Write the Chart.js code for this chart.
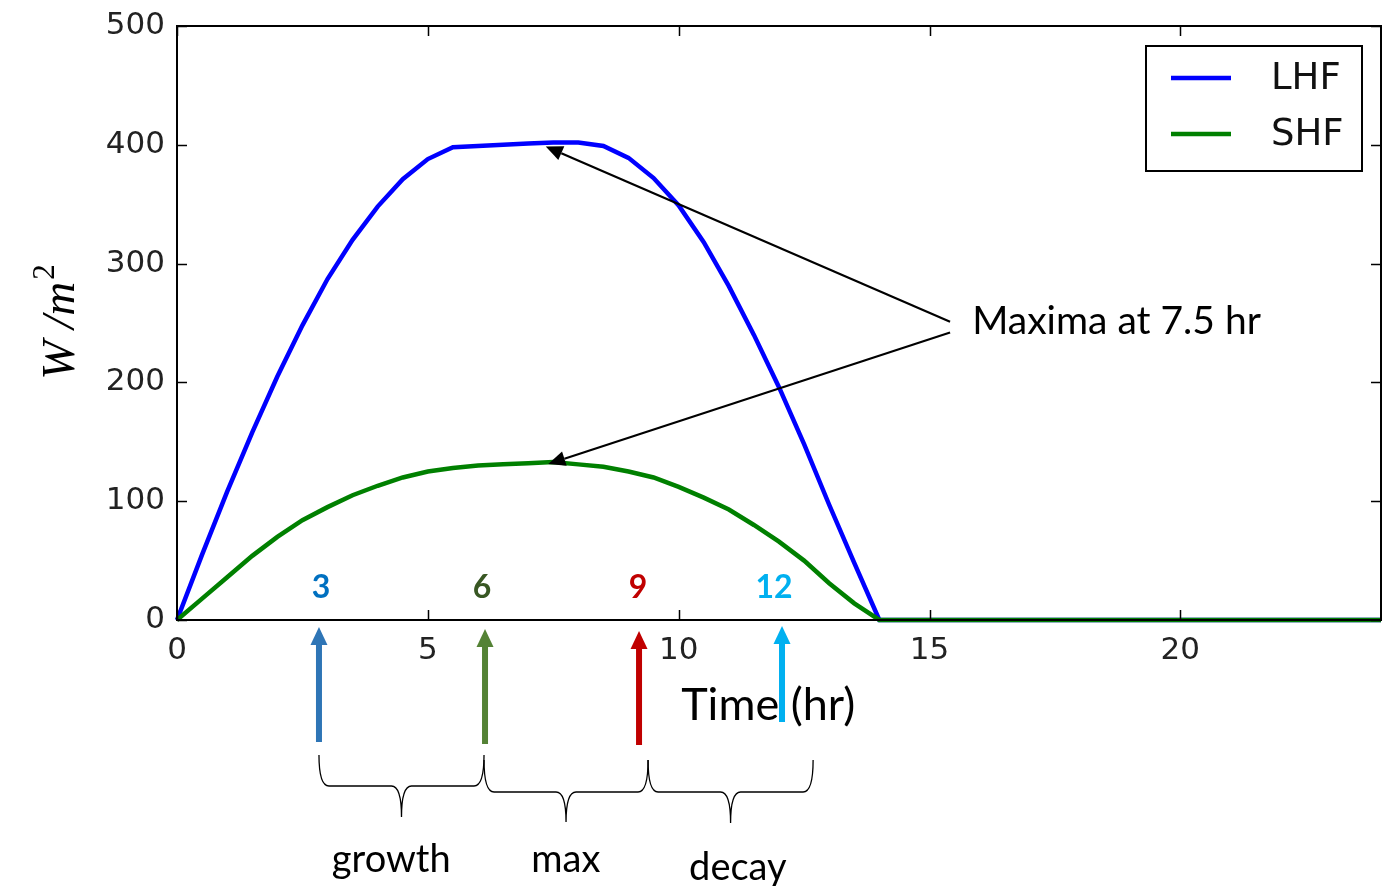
<!DOCTYPE html>
<html>
<head>
<meta charset="utf-8">
<script src="https://cdn.jsdelivr.net/npm/chart.js@4.4.1/dist/chart.umd.min.js"></script>
<style>
  body { margin: 0; background: #fff; }
  #wrap { width: 1382px; height: 886px; position: relative; }
</style>
</head>
<body>
<div id="wrap"><canvas id="chart"></canvas></div>
<script>
// time of day (hr), half-hourly
const hours = [0, 0.5, 1, 1.5, 2, 2.5, 3, 3.5, 4, 4.5, 5, 5.5, 6, 6.5, 7, 7.5, 8, 8.5, 9, 9.5,
  10, 10.5, 11, 11.5, 12, 12.5, 13, 13.5, 14, 14.5, 15, 15.5, 16, 16.5, 17, 17.5, 18, 18.5, 19, 19.5,
  20, 20.5, 21, 21.5, 22, 22.5, 23, 23.5, 24];
// latent heat flux, W/m2
const lhf = [0, 55, 108, 158, 205, 248, 287, 320, 348, 371, 388, 398, 399, 400, 401, 402, 402, 399, 389, 372,
  349, 318, 281, 240, 196, 148, 97, 48, 0, 0, 0, 0, 0, 0, 0, 0, 0, 0, 0, 0,
  0, 0, 0, 0, 0, 0, 0, 0, 0];
// sensible heat flux, W/m2
const shf = [0, 18, 36, 54, 70, 84, 95, 105, 113, 120, 125, 128, 130, 131, 132, 133, 131, 129, 125, 120,
  112, 103, 93, 80, 66, 50, 31, 14, 0, 0, 0, 0, 0, 0, 0, 0, 0, 0, 0, 0,
  0, 0, 0, 0, 0, 0, 0, 0, 0];

const seriesNames = ['LHF', 'SHF'];
const seriesColors = ['#0000ff', '#008000'];

// stage markers under the axis
const stageLabels = ['3', '6', '9', '12'];
const stageLabelAt = [2.87, 6.08, 9.19, 11.9];
const stageArrowAt = [2.83, 6.14, 9.21, 12.06];
const stageLabelColors = ['#0070C0', '#385723', '#C00000', '#00B0F0'];
const stageArrowColors = ['#2E75B6', '#548235', '#C00000', '#00B0F0'];

const phaseNames = ['growth', 'max', 'decay'];
const phaseFrom = [2.83, 6.12, 9.39];
const phaseTo = [6.12, 9.39, 12.68];
const phaseTextAt = [4.27, 7.75, 11.18];

const peakHour = 7.5;

const overlay = {
  id: 'overlay',
  afterDraw(chart) {
    const { ctx, chartArea: a, scales: { x, y } } = chart;
    const bot = a.bottom;
    ctx.save();

    // axes frame + inward ticks (all four sides)
    ctx.strokeStyle = '#000';
    ctx.lineWidth = 2;
    ctx.strokeRect(a.left, a.top, a.right - a.left, a.bottom - a.top);
    ctx.lineWidth = 1.5;
    ctx.beginPath();
    x.ticks.forEach(t => {
      const p = Math.round(x.getPixelForValue(t.value)) + 0.5;
      ctx.moveTo(p, a.bottom); ctx.lineTo(p, a.bottom - 10);
      ctx.moveTo(p, a.top); ctx.lineTo(p, a.top + 10);
    });
    y.ticks.forEach(t => {
      const p = Math.round(y.getPixelForValue(t.value)) + 0.5;
      ctx.moveTo(a.left, p); ctx.lineTo(a.left + 10, p);
      ctx.moveTo(a.right, p); ctx.lineTo(a.right - 10, p);
    });
    ctx.stroke();

    // y axis title  W /m^2
    ctx.save();
    ctx.translate(74, (a.top + a.bottom) / 2);
    ctx.rotate(-Math.PI / 2);
    ctx.fillStyle = '#000';
    ctx.textBaseline = 'alphabetic';
    ctx.font = 'italic 47px "Liberation Serif"';
    const w1 = ctx.measureText('W /m').width;
    ctx.font = '31px "Liberation Serif"';
    const w2 = ctx.measureText('2').width;
    ctx.font = 'italic 47px "Liberation Serif"';
    ctx.textAlign = 'left';
    ctx.fillText('W /m', -(w1 + w2) / 2, 0);
    ctx.font = '31px "Liberation Serif"';
    ctx.fillText('2', -(w1 + w2) / 2 + w1 + 2, -20);
    ctx.restore();

    // legend box, upper right
    const lx = a.right - 235, ly = a.top + 20, lw = 216, lh = 125;
    ctx.fillStyle = '#fff';
    ctx.fillRect(lx, ly, lw, lh);
    ctx.strokeStyle = '#000';
    ctx.lineWidth = 2;
    ctx.strokeRect(lx, ly, lw, lh);
    ctx.font = '37px "DejaVu Sans"';
    ctx.textAlign = 'left';
    ctx.textBaseline = 'middle';
    chart.data.datasets.forEach((ds, i) => {
      const yy = ly + 32 + i * 56;
      ctx.strokeStyle = ds.borderColor;
      ctx.lineWidth = 4.5;
      ctx.beginPath(); ctx.moveTo(lx + 25, yy); ctx.lineTo(lx + 85, yy); ctx.stroke();
      ctx.fillStyle = '#111';
      ctx.fillText(ds.label, lx + 125, yy + 1);
    });

    // "Maxima" annotation
    const tailX = x.getPixelForValue(15.41);
    const tips = [
      [x.getPixelForValue(peakHour - 0.15), y.getPixelForValue(lhf[hours.indexOf(peakHour)]) + 4, y.getPixelForValue(251)],
      [x.getPixelForValue(peakHour - 0.1), y.getPixelForValue(shf[hours.indexOf(peakHour)]) + 2, y.getPixelForValue(242)]
    ];
    ctx.strokeStyle = '#000';
    ctx.fillStyle = '#000';
    ctx.lineWidth = 2.2;
    tips.forEach(([tx, ty, sy]) => {
      const ang = Math.atan2(ty - sy, tx - tailX);
      const hl = 17, hw = 7.5;
      ctx.beginPath(); ctx.moveTo(tailX, sy);
      ctx.lineTo(tx - Math.cos(ang) * hl, ty - Math.sin(ang) * hl); ctx.stroke();
      ctx.beginPath();
      ctx.moveTo(tx, ty);
      ctx.lineTo(tx - Math.cos(ang) * hl - Math.sin(ang) * hw, ty - Math.sin(ang) * hl + Math.cos(ang) * hw);
      ctx.lineTo(tx - Math.cos(ang) * hl + Math.sin(ang) * hw, ty - Math.sin(ang) * hl - Math.cos(ang) * hw);
      ctx.closePath(); ctx.fill();
    });
    ctx.font = '39px Lato';
    ctx.textAlign = 'left';
    ctx.textBaseline = 'alphabetic';
    ctx.fillText('Maxima at ' + peakHour + ' hr', x.getPixelForValue(15.85), y.getPixelForValue(241));

    // stage numbers inside the plot
    ctx.font = 'bold 32px Lato';
    ctx.textAlign = 'center';
    ctx.textBaseline = 'middle';
    stageLabels.forEach((s, i) => {
      ctx.fillStyle = stageLabelColors[i];
      ctx.fillText(s, x.getPixelForValue(stageLabelAt[i]), y.getPixelForValue(27));
    });

    // Time (hr) label (arrow drawn over it)
    ctx.fillStyle = '#000';
    ctx.font = '45px Lato';
    ctx.textAlign = 'left';
    ctx.textBaseline = 'alphabetic';
    ctx.fillText('Time (hr)', x.getPixelForValue(10.05), bot + 100);

    // stage arrows below the axis
    const tipOff = [7, 9, 11, 6], baseOff = [122, 124, 125, 102];
    stageArrowAt.forEach((h, i) => {
      const xp = x.getPixelForValue(h);
      const tipY = bot + tipOff[i], baseY = bot + baseOff[i];
      ctx.fillStyle = stageArrowColors[i];
      ctx.fillRect(xp - 3, tipY + 16, 6, baseY - tipY - 16);
      ctx.beginPath();
      ctx.moveTo(xp, tipY); ctx.lineTo(xp - 8.5, tipY + 18); ctx.lineTo(xp + 8.5, tipY + 18);
      ctx.closePath(); ctx.fill();
    });

    // curly braces + phase names
    const braceTop = [135, 140, 140], braceMid = [166, 172, 172], braceTip = [197, 202, 203];
    const textBase = [252, 252, 260];
    ctx.strokeStyle = '#000';
    ctx.lineWidth = 1.3;
    phaseNames.forEach((nm, i) => {
      const x1 = x.getPixelForValue(phaseFrom[i]), x2 = x.getPixelForValue(phaseTo[i]);
      const xm = (x1 + x2) / 2;
      const yT = bot + braceTop[i], yH = bot + braceMid[i], yP = bot + braceTip[i];
      const r = 10;
      ctx.beginPath();
      ctx.moveTo(x1, yT);
      ctx.quadraticCurveTo(x1, yH, x1 + r, yH);
      ctx.lineTo(xm - r, yH);
      ctx.quadraticCurveTo(xm, yH, xm, yP);
      ctx.quadraticCurveTo(xm, yH, xm + r, yH);
      ctx.lineTo(x2 - r, yH);
      ctx.quadraticCurveTo(x2, yH, x2, yT);
      ctx.stroke();
      ctx.fillStyle = '#000';
      ctx.font = '38px Lato';
      ctx.textAlign = 'center';
      ctx.fillText(nm, x.getPixelForValue(phaseTextAt[i]), bot + textBase[i]);
    });

    ctx.restore();
  }
};

new Chart(document.getElementById('chart'), {
  type: 'line',
  data: {
    datasets: [lhf, shf].map((vals, i) => ({
      label: seriesNames[i],
      data: hours.map((h, k) => ({ x: h, y: vals[k] })),
      borderColor: seriesColors[i],
      borderWidth: 4.5,
      pointRadius: 0,
      tension: 0,
      fill: false,
      clip: 5,
      order: 2 - i
    }))
  },
  options: {
    responsive: true,
    maintainAspectRatio: false,
    animation: false,
    events: [],
    layout: { autoPadding: false, padding: { top: 26, right: 1, left: 0, bottom: 0 } },
    plugins: { legend: { display: false }, tooltip: { enabled: false } },
    scales: {
      x: {
        type: 'linear',
        min: 0, max: 24,
        grid: { display: false, drawTicks: false },
        border: { display: false },
        ticks: { stepSize: 5, includeBounds: false, padding: 12, color: '#222', font: { family: 'DejaVu Sans', size: 31 } },
        afterFit: s => { s.height = 266; s.paddingLeft = 0; s.paddingRight = 0; }
      },
      y: {
        min: 0, max: 500,
        grid: { display: false, drawTicks: false },
        border: { display: false },
        ticks: { stepSize: 100, padding: 12, color: '#222', font: { family: 'DejaVu Sans', size: 31 } },
        afterFit: s => { s.width = 177; s.paddingTop = 0; s.paddingBottom = 0; }
      }
    }
  },
  plugins: [overlay]
});
</script>
</body>
</html>
